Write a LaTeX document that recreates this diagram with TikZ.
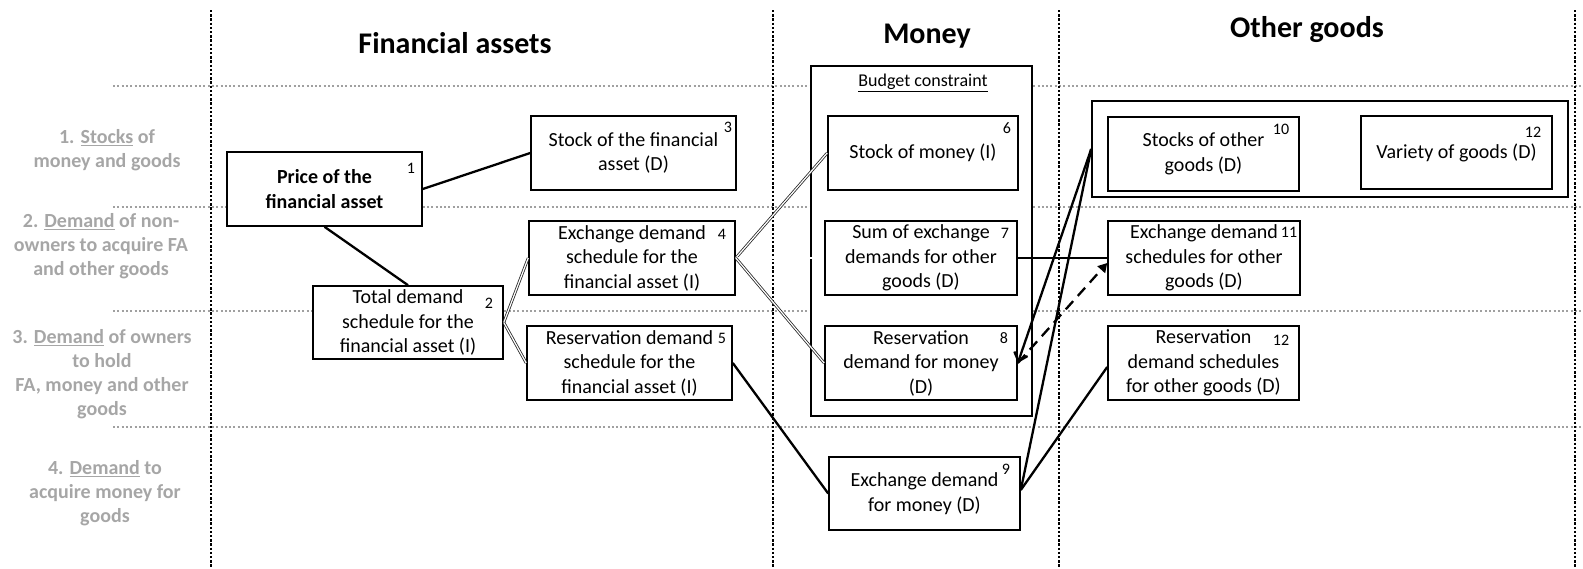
\documentclass[tikz,border=0pt]{standalone}
\usepackage{fontspec}
\setmainfont{Carlito}
\usetikzlibrary{arrows.meta}
\definecolor{lblgrey}{HTML}{A6A6A6}
\definecolor{dotgrey}{HTML}{A0A0A0}
\begin{document}
\begin{tikzpicture}[x=1pt,y=-1pt,
  box/.style={draw, line width=1.6pt, fill=white, inner sep=0pt, align=center, font=\fontsize{20}{24.5}\selectfont},
  grp/.style={draw, line width=1.6pt, fill=white, inner sep=0pt},
  num/.style={font=\fontsize{16}{18}\selectfont, inner sep=0pt},
  lbl/.style={text=lblgrey, font=\bfseries\fontsize{20}{24}\selectfont, align=center, inner sep=0pt},
  head/.style={font=\bfseries\fontsize{30}{34}\selectfont, anchor=base, inner sep=0pt},
  vsep/.style={line width=2.8pt, dash pattern=on 2.4pt off 1.8pt},
  hsep/.style={dotgrey, line width=2.2pt, dash pattern=on 2pt off 2.3pt},
  link/.style={line width=2.3pt},
  dlink/.style={line width=0.8pt, draw=black!85, double=white, double distance=1.2pt},
  dashlink/.style={line width=2.3pt, dash pattern=on 11pt off 7pt, -{Triangle[length=9pt,width=10pt]}},
  barb/.style={line width=2.3pt, -{Straight Barb[length=8pt,width=14pt]}},
]
\useasboundingbox (0,0) rectangle (1583,568);

% separators
\foreach \y in {86,207,311,427} \draw[hsep] (113,\y) -- (1583,\y);
\foreach \x in {211,773,1059,1575} \draw[vsep] (\x,10) -- (\x,568);

% headings
\node[head] (hfa) at (455,53) {Financial assets};
\node[head] (hmo) at (927,43) {Money};
\node[head] (hog) at (1307,37) {Other goods};

% row labels
\node[lbl] (l1) at (107,150) {1. \underline{Stocks} of\\money and goods};
\node[lbl] (l2) at (101,246) {2. \underline{Demand} of non-\\owners to acquire FA\\and other goods};
\node[lbl] (l3) at (102,374) {3. \underline{Demand} of owners\\to hold\\FA, money and other\\goods};
\node[lbl] (l4) at (105,493) {4. \underline{Demand} to\\acquire money for\\goods};

% group boxes
\node[grp, minimum width=221pt, minimum height=350pt] (budget) at (921.5,241) {};
\node[font=\fontsize{18}{20}\selectfont, inner sep=0pt] (bc) at (923,83) {\underline{Budget constraint}};
\node[grp, minimum width=476pt, minimum height=96pt] (goods) at (1330,149) {};

% boxes
\node[box, font=\bfseries\fontsize{20}{24.5}\selectfont, minimum width=195pt, minimum height=74pt] (b1) at (324.5,189) {Price of the\\financial asset};
\node[box, minimum width=190pt, minimum height=73pt] (b2) at (408,322.5) {Total demand\\schedule for the\\financial asset (I)};
\node[box, minimum width=205pt, minimum height=74pt] (b3) at (633.5,153) {Stock of the financial\\asset (D)};
\node[box, minimum width=206pt, minimum height=74pt] (b4) at (632,258) {Exchange demand\\schedule for the\\financial asset (I)};
\node[box, minimum width=205pt, minimum height=74pt] (b5) at (629.5,363) {Reservation demand\\schedule for the\\financial asset (I)};
\node[box, minimum width=190pt, minimum height=74pt] (b6) at (923,153) {Stock of money (I)};
\node[box, minimum width=192pt, minimum height=74pt] (b7) at (921,258) {Sum of exchange\\demands for other\\goods (D)};
\node[box, minimum width=192pt, minimum height=74pt] (b8) at (921,363) {Reservation\\demand for money\\(D)};
\node[box, minimum width=191pt, minimum height=73pt] (b9) at (924.5,493.5) {Exchange demand\\for money (D)};
\node[box, minimum width=191pt, minimum height=74pt] (b10) at (1203.5,154) {Stocks of other\\goods (D)};
\node[box, minimum width=191pt, minimum height=73pt] (b12v) at (1456.5,152.5) {Variety of goods (D)};
\node[box, minimum width=192pt, minimum height=74pt] (b11) at (1204,258) {Exchange demand\\schedules for other\\goods (D)};
\node[box, minimum width=191pt, minimum height=74pt] (b12r) at (1203.5,363) {Reservation\\demand schedules\\for other goods (D)};

% numbers
\node[num] (n1) at (411,168) {1};
\node[num] (n2) at (489,303) {2};
\node[num] (n3) at (728,127) {3};
\node[num] (n4) at (722,234) {4};
\node[num] (n5) at (722,338) {5};
\node[num] (n6) at (1007,128) {6};
\node[num] (n7) at (1005,233) {7};
\node[num] (n8) at (1004,338) {8};
\node[num] (n9) at (1006,469) {9};
\node[num] (n10) at (1281,129) {10};
\node[num] (n12v) at (1533,132) {12};
\node[num] (n11) at (1289,232) {11};
\node[num] (n12r) at (1281,340) {12};

% connectors
\draw[link] (b1.east) -- (b3.west);
\draw[link] (b1.south) -- (b2.north);
\draw[dlink] (b2.east) -- (b4.west);
\draw[dlink] (b2.east) -- (b5.west);
\draw[dlink] (b4.east) -- (b6.west);
\draw[dlink] (b4.east) -- (b7.west);
\draw[dlink] (b4.east) -- (b8.west);
\draw[link] (b5.east) -- (b9.west);
\draw[link] (b7.east) -- (b11.west);
\draw[dashlink] (b8.east) -- ([yshift=-5pt]b11.west);
\draw[barb] (goods.west) -- (b8.east);
\draw[link] (goods.west) -- ([yshift=3.5pt]b9.east);
\draw[link] ([yshift=3.5pt]b9.east) -- ([yshift=-4pt]b12r.west);
\end{tikzpicture}
\end{document}
